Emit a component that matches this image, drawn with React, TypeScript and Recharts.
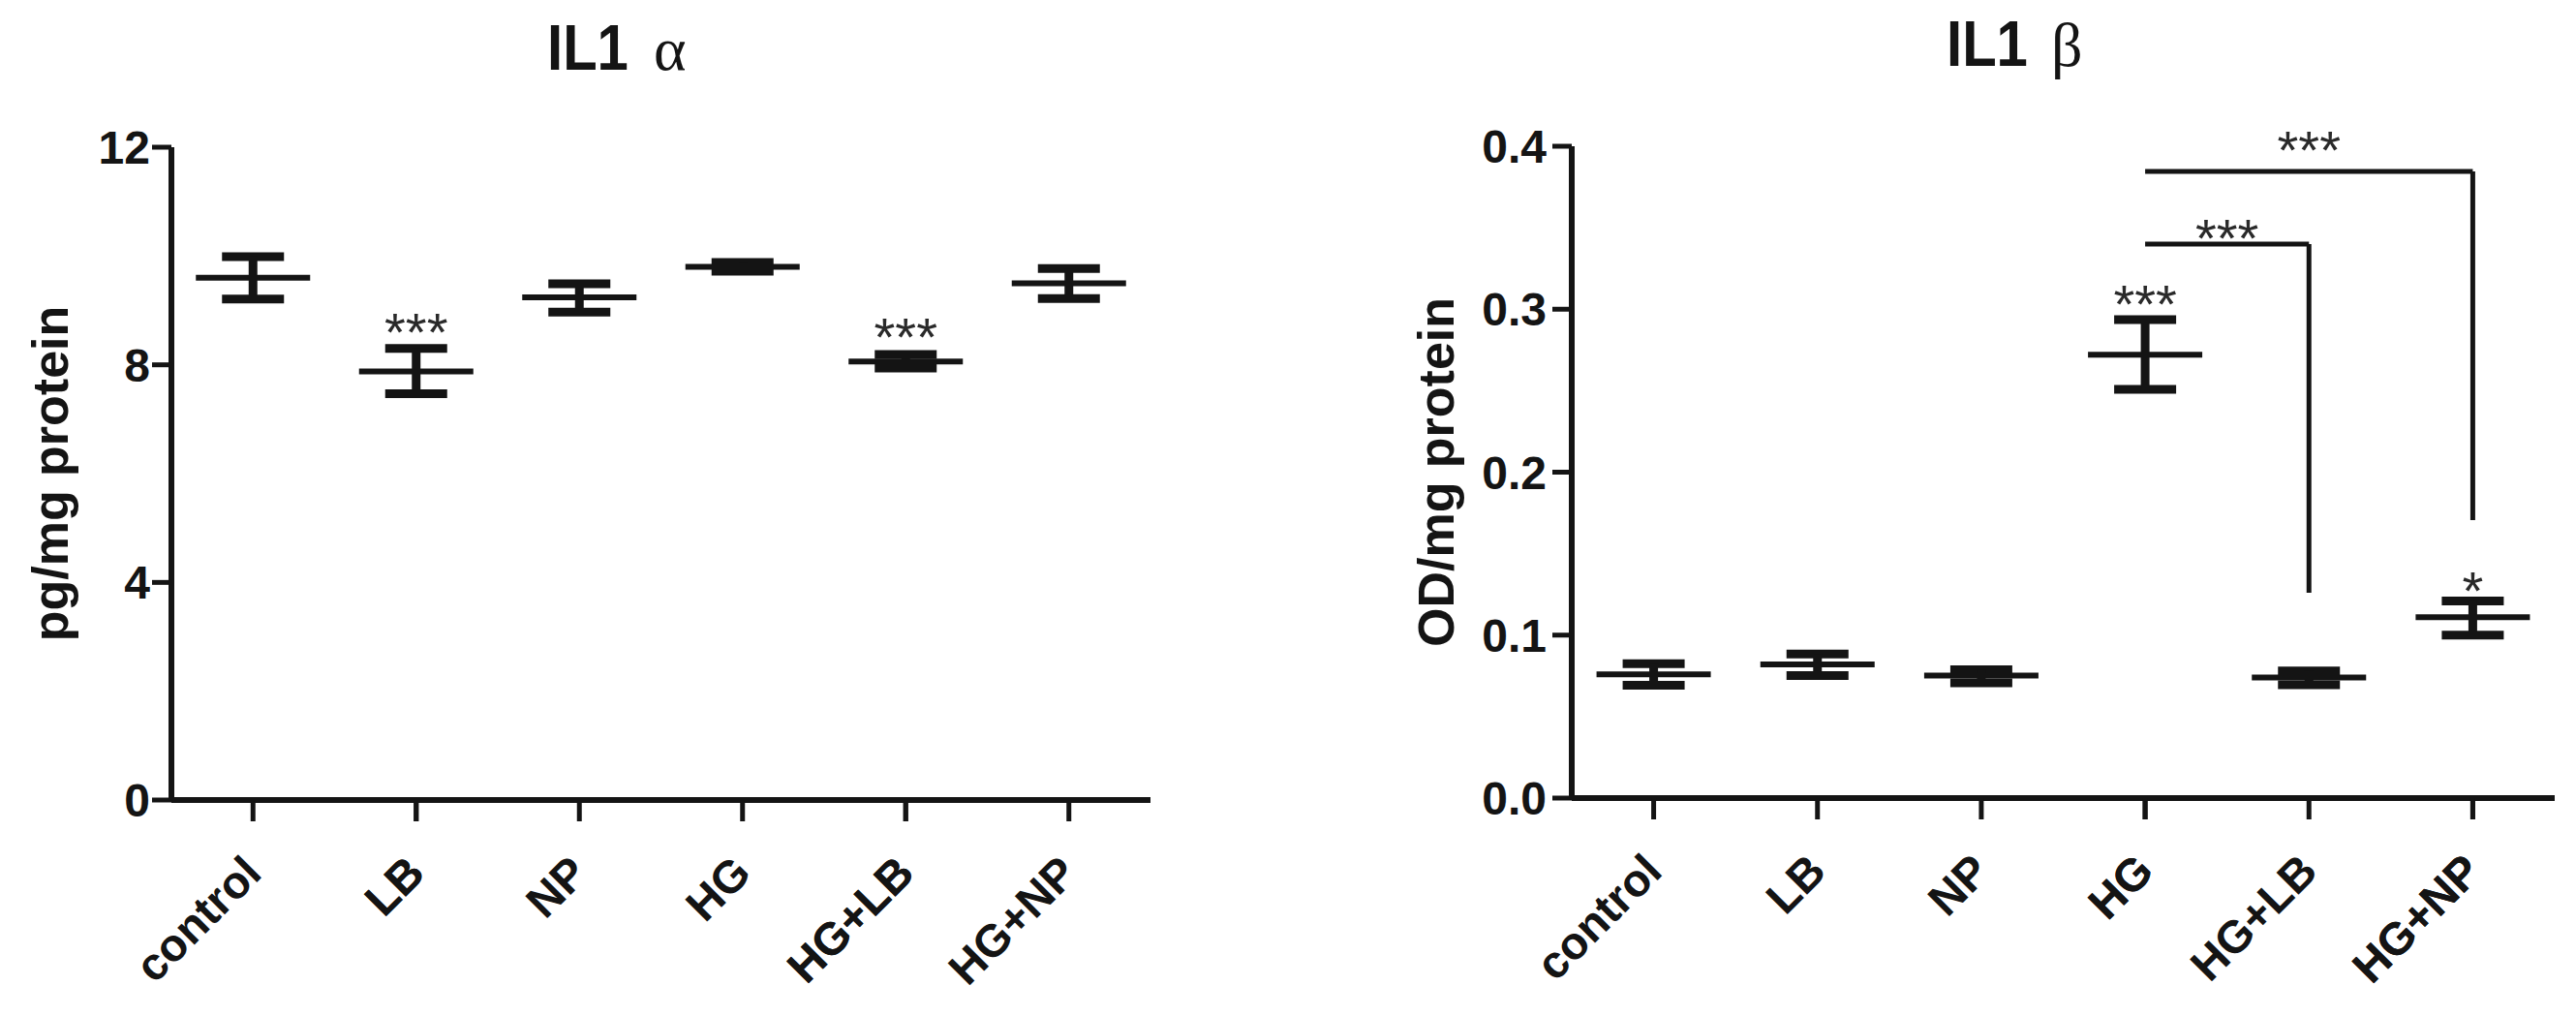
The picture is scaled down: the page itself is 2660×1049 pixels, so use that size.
import React from 'react';
import { ComposedChart, Scatter, ErrorBar, XAxis, YAxis, ReferenceLine } from 'recharts';

const groups = ['control', 'LB', 'NP', 'HG', 'HG+LB', 'HG+NP'];

// IL1 alpha (pg/mg protein): mean and the two SEM caps
const alphaMean = [9.6, 7.88, 9.24, 9.8, 8.06, 9.5];
const alphaLow = [9.21, 7.47, 8.97, 9.72, 7.94, 9.22];
const alphaHigh = [9.99, 8.3, 9.49, 9.88, 8.19, 9.77];
const alphaTicks = [0, 4, 8, 12];
const alphaStarGroups = ['LB', 'HG+LB'];
const alphaStarY = [8.83, 8.74];
const alphaStarText = ['***', '***'];

// IL1 beta (OD/mg protein)
const betaMean = [0.076, 0.082, 0.0752, 0.272, 0.074, 0.111];
const betaLow = [0.0692, 0.0752, 0.0708, 0.2508, 0.0696, 0.1];
const betaHigh = [0.0824, 0.0884, 0.0788, 0.2936, 0.078, 0.121];
const betaTicks = [0, 0.1, 0.2, 0.3, 0.4];
const betaStarGroups = ['HG', 'HG+NP'];
const betaStarY = [0.311, 0.135];
const betaStarText = ['***', '*'];

// comparison brackets on the IL1 beta panel
const bracketFrom = ['HG', 'HG'];
const bracketTo = ['HG+LB', 'HG+NP'];
const bracketTop = [0.34, 0.3845];
const bracketEnd = [0.126, 0.1706];
const bracketText = ['***', '***'];

const INK = '#141414';
const SANS = "'Liberation Sans', Arial, Helvetica, sans-serif";
const SERIF = "'Liberation Serif', 'Times New Roman', serif";

const MeanLine = (p: any) => (
  <line x1={p.cx - 59} x2={p.cx + 59} y1={p.cy} y2={p.cy} stroke={INK} strokeWidth={6} />
);

const StarMark = (p: any) => (
  <text
    x={p.cx}
    y={p.cy + 32}
    textAnchor="middle"
    fontSize={56}
    fontFamily={SANS}
    fill="#2a2a2a"
  >
    {p.payload.text}
  </text>
);

const GroupTick = (p: any) => {
  const ax = p.x + 11;
  const ay = p.y + 56;
  return (
    <text
      x={ax}
      y={ay}
      transform={`rotate(-45, ${ax}, ${ay})`}
      textAnchor="end"
      fontSize={47}
      fontWeight={700}
      fontFamily={SANS}
      fill={INK}
    >
      {p.payload.value}
    </text>
  );
};

interface PanelProps {
  means: number[];
  lows: number[];
  highs: number[];
  ticks: number[];
  yLabel: string;
  fmt: (v: number) => string;
  starGroups: string[];
  starY: number[];
  starText: string[];
  marginTop: number;
  marginRight: number;
  axisWidth: number;
  xAxisHeight: number;
  labelOffset: number;
  tickMargin: number;
  brackets?: boolean;
}

function Panel(props: PanelProps) {
  const data = groups.map((g, i) => ({
    group: g,
    mean: props.means[i],
    err: [props.means[i] - props.lows[i], props.highs[i] - props.means[i]],
  }));
  const stars = props.starGroups.map((g, i) => ({ group: g, y: props.starY[i], text: props.starText[i] }));
  const top = props.ticks[props.ticks.length - 1];

  return (
    <ComposedChart
      width={1330}
      height={1049}
      data={data}
      margin={{ top: props.marginTop, right: props.marginRight, bottom: 0, left: 0 }}
    >
      <XAxis
        dataKey="group"
        type="category"
        scale="band"
        allowDuplicatedCategory={false}
        interval={0}
        height={props.xAxisHeight}
        tickSize={22}
        tickMargin={0}
        axisLine={{ stroke: INK, strokeWidth: 6 }}
        tickLine={{ stroke: INK, strokeWidth: 5 }}
        tick={<GroupTick />}
      />
      <YAxis
        type="number"
        domain={[0, top]}
        ticks={props.ticks}
        interval={0}
        width={props.axisWidth}
        tickSize={20}
        tickMargin={props.tickMargin}
        tickFormatter={props.fmt}
        axisLine={{ stroke: INK, strokeWidth: 6 }}
        tickLine={{ stroke: INK, strokeWidth: 5 }}
        tick={{ fontSize: 48, fontWeight: 700, fill: INK, fontFamily: SANS }}
        label={{
          value: props.yLabel,
          angle: -90,
          position: 'insideLeft',
          offset: props.labelOffset,
          fontSize: 52,
          fontWeight: 700,
          fill: INK,
          fontFamily: SANS,
          style: { textAnchor: 'middle' },
        }}
      />
      <Scatter dataKey="mean" shape={MeanLine} isAnimationActive={false}>
        <ErrorBar
          dataKey="err"
          direction="y"
          width={32}
          stroke={INK}
          strokeWidth={9}
          isAnimationActive={false}
        />
      </Scatter>
      <Scatter data={stars} dataKey="y" shape={StarMark} isAnimationActive={false} />
      {props.brackets &&
        bracketFrom.map((from, i) => (
          <ReferenceLine
            key={`h${i}`}
            segment={[
              { x: from, y: bracketTop[i] },
              { x: bracketTo[i], y: bracketTop[i] },
            ]}
            stroke={INK}
            strokeWidth={5}
            label={{
              value: bracketText[i],
              position: 'top',
              offset: i === 0 ? -13 : 3,
              fontSize: 56,
              fill: '#2a2a2a',
              fontFamily: SANS,
            }}
          />
        ))}
      {props.brackets &&
        bracketTo.map((to, i) => (
          <ReferenceLine
            key={`v${i}`}
            segment={[
              { x: to, y: bracketTop[i] },
              { x: to, y: bracketEnd[i] },
            ]}
            stroke={INK}
            strokeWidth={5}
          />
        ))}
    </ComposedChart>
  );
}

export default function App() {
  return (
    <div
      style={{
        position: 'absolute',
        left: 0,
        top: 0,
        width: 2660,
        height: 1049,
        background: '#fff',
        fontFamily: SANS,
      }}
    >
      <div style={{ position: 'absolute', left: 0, top: 0 }}>
        <Panel
          means={alphaMean}
          lows={alphaLow}
          highs={alphaHigh}
          ticks={alphaTicks}
          yLabel="pg/mg protein"
          fmt={(v) => String(v)}
          starGroups={alphaStarGroups}
          starY={alphaStarY}
          starText={alphaStarText}
          marginTop={152}
          marginRight={142}
          axisWidth={177}
          xAxisHeight={223}
          labelOffset={52}
          tickMargin={2}
        />
      </div>
      <div style={{ position: 'absolute', left: 1330, top: 0 }}>
        <Panel
          means={betaMean}
          lows={betaLow}
          highs={betaHigh}
          ticks={betaTicks}
          yLabel="OD/mg protein"
          fmt={(v) => v.toFixed(1)}
          starGroups={betaStarGroups}
          starY={betaStarY}
          starText={betaStarText}
          marginTop={151}
          marginRight={22}
          axisWidth={293}
          xAxisHeight={225}
          labelOffset={153}
          tickMargin={6}
          brackets
        />
      </div>
      <svg
        width={2660}
        height={120}
        style={{ position: 'absolute', left: 0, top: 0, pointerEvents: 'none' }}
      >
        <text
          transform="translate(565,72) scale(0.88,1)"
          fontSize={66}
          fontWeight={700}
          fontFamily={SANS}
          fill={INK}
        >
          IL1
        </text>
        <text x={675} y={72} fontSize={64} fontFamily={SERIF} fill={INK}>
          α
        </text>
        <text
          transform="translate(2010,68) scale(0.88,1)"
          fontSize={66}
          fontWeight={700}
          fontFamily={SANS}
          fill={INK}
        >
          IL1
        </text>
        <text x={2118} y={68} fontSize={64} fontFamily={SERIF} fill={INK}>
          β
        </text>
      </svg>
    </div>
  );
}
